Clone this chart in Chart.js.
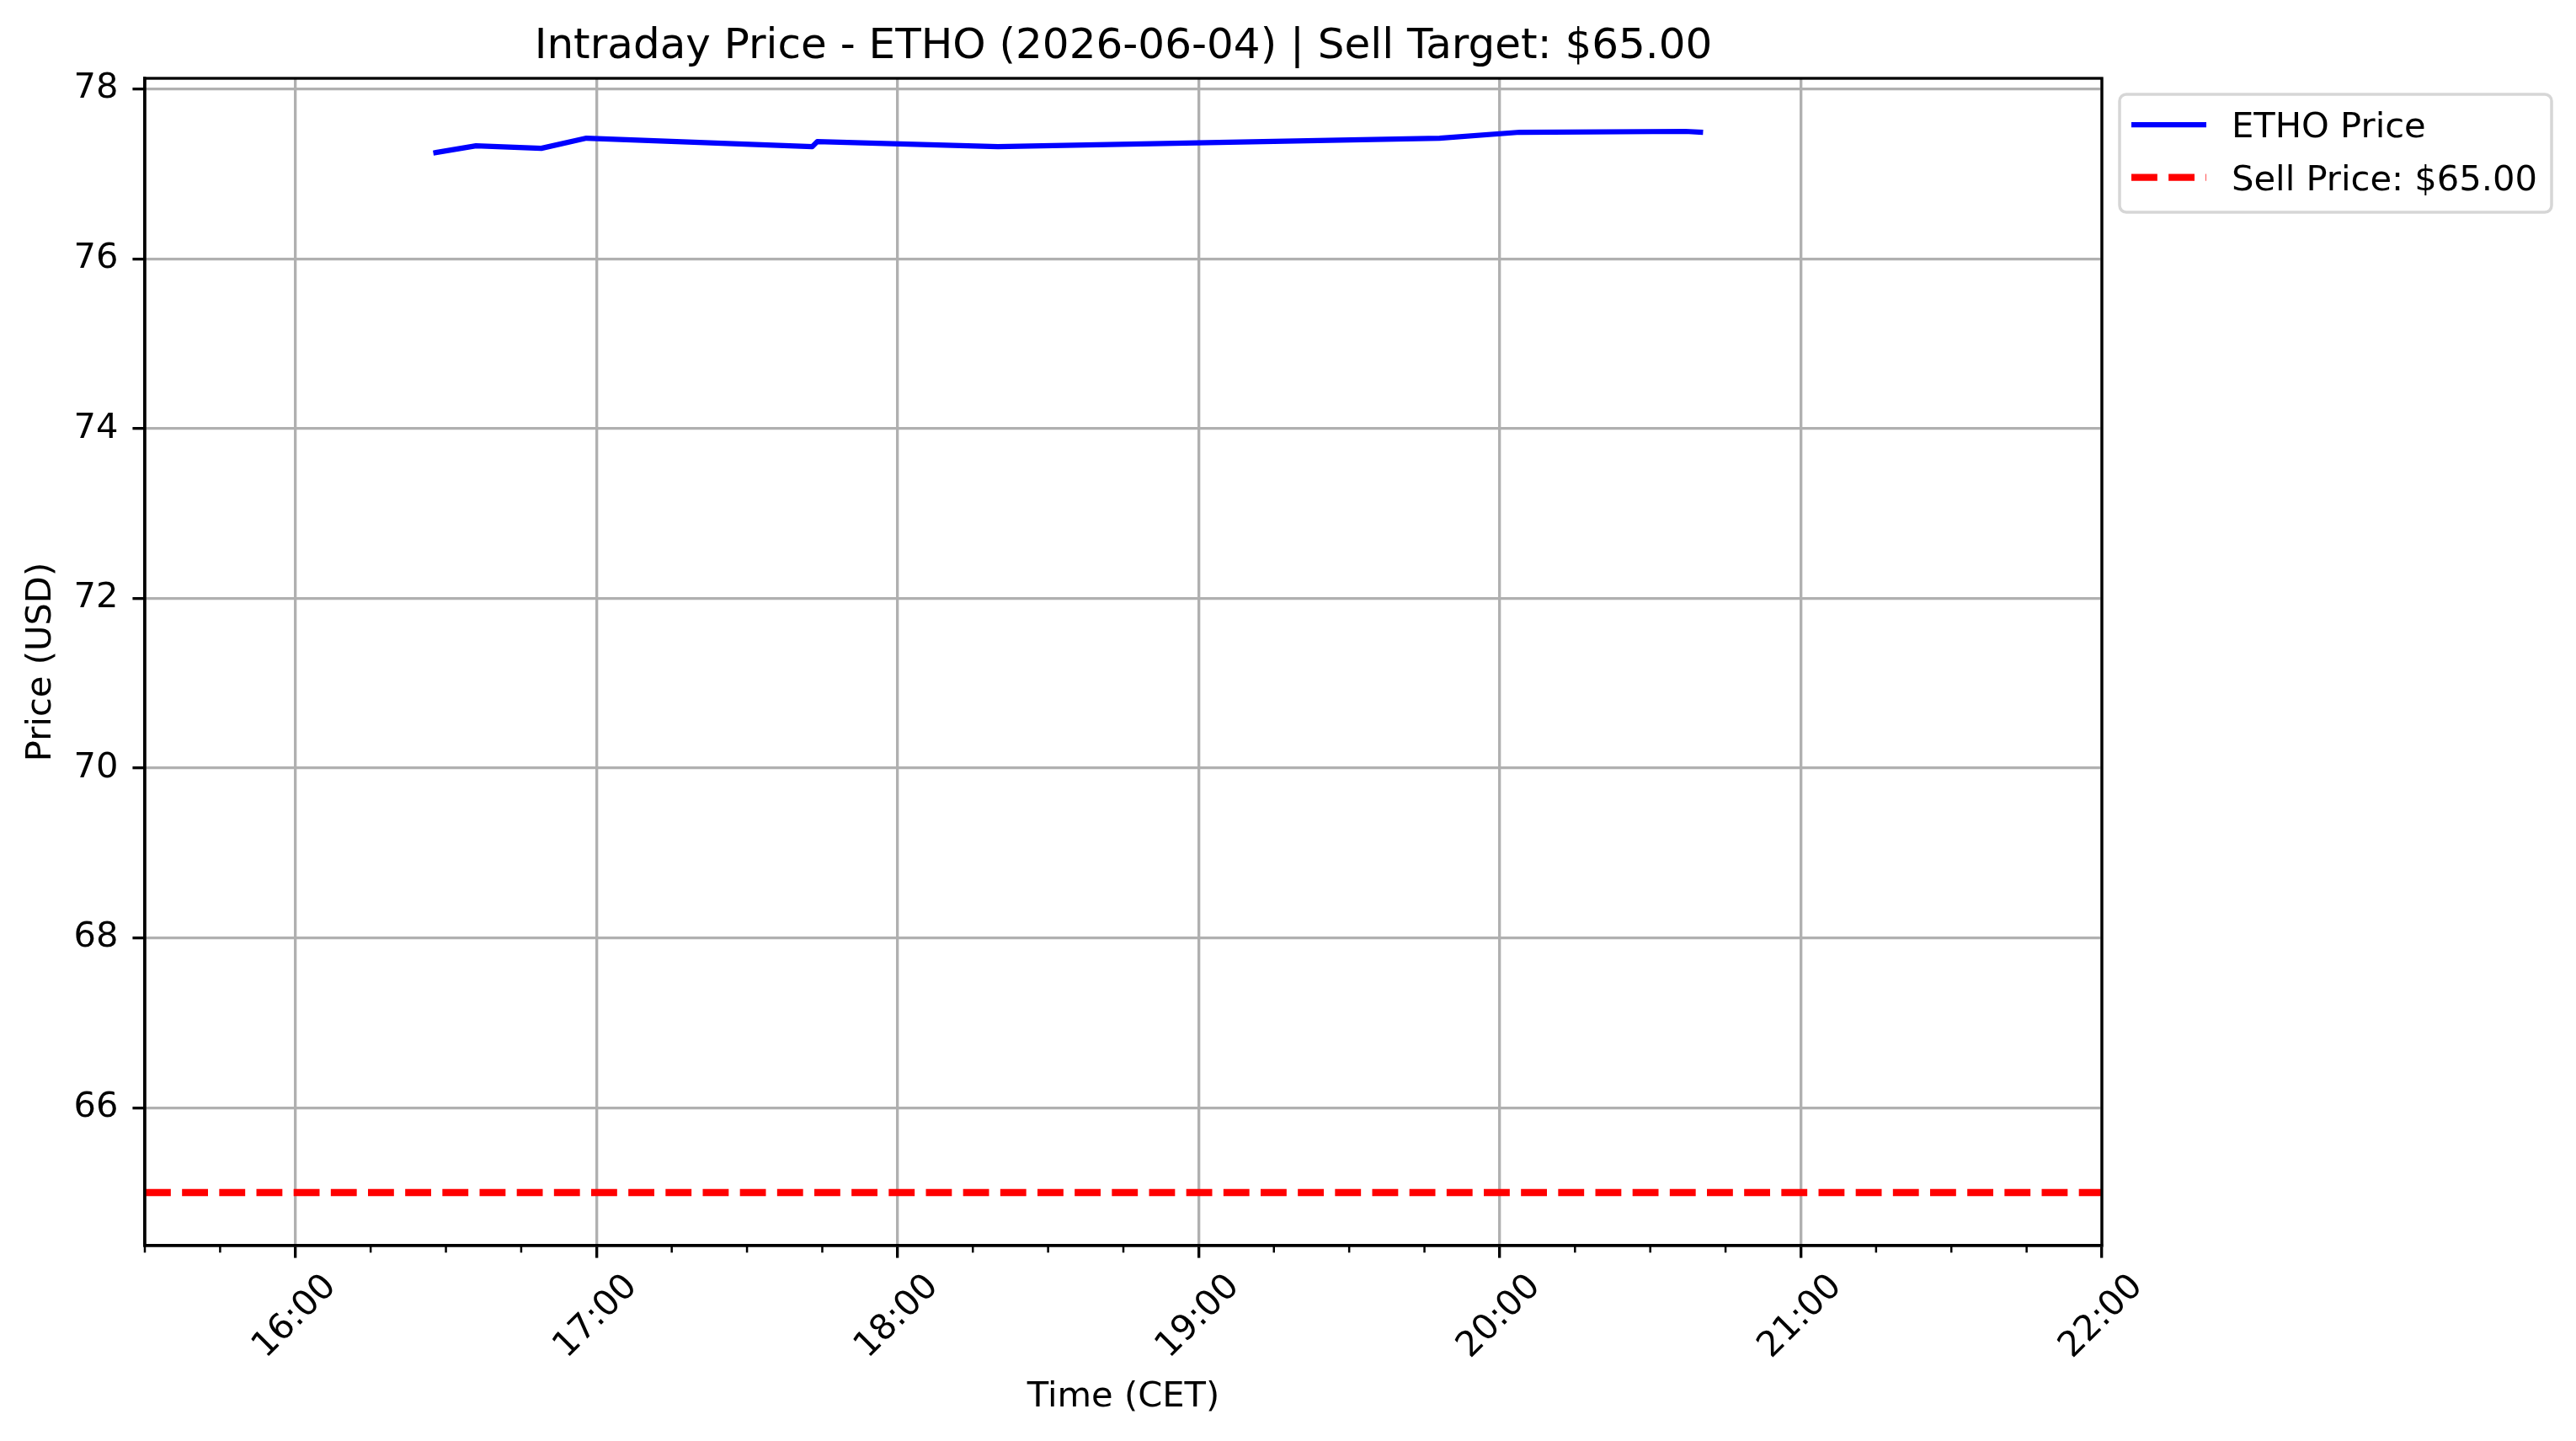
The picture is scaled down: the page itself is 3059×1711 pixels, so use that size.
<!DOCTYPE html>
<html>
<head>
<meta charset="utf-8">
<title>Intraday Price - ETHO</title>
<script src="https://cdn.jsdelivr.net/npm/chart.js@4.4.1/dist/chart.umd.min.js"></script>
<style>
  html, body { margin: 0; padding: 0; background: #fff; }
  canvas { display: block; }
</style>
</head>
<body>
<canvas id="chart" width="3059" height="1711"></canvas>
<script>
// values
var symbol = 'ETHO';
var tradeDate = '2026-06-04';
var sellTarget = 65;
var sessionStart = '15:30';
var sessionEnd = '22:00';
var priceTimes = ['16:28', '16:36', '16:49', '16:58', '17:43', '17:44', '18:20', '19:48', '20:04', '20:37', '20:40'];
var priceValues = [77.25, 77.33, 77.30, 77.42, 77.32, 77.38, 77.32, 77.42, 77.49, 77.50, 77.49];
var hourTicks = ['16:00', '17:00', '18:00', '19:00', '20:00', '21:00', '22:00'];
var priceTicks = [66, 68, 70, 72, 74, 76, 78];

function toMin(t) {
    var p = t.split(':');
    return parseInt(p[0], 10) * 60 + parseInt(p[1], 10);
}
function fmtMin(v) {
    var h = Math.floor(v / 60), m = Math.round(v % 60);
    return (h < 10 ? '0' : '') + h + ':' + (m < 10 ? '0' : '') + m;
}

// matplotlib style autoscale margin (5%) on the y range
var allY = priceValues.concat([sellTarget]);
var yLo = Math.min.apply(null, allY), yHi = Math.max.apply(null, allY);
var yPad = (yHi - yLo) * 0.05;

Chart.defaults.font.family = '"DejaVu Sans", sans-serif';
Chart.defaults.color = '#000';

var PT = 300 / 72; // 300 dpi

// frame, minor ticks and the boxed legend outside the axes
var extras = {
    id: 'extras',
    afterDatasetsDraw: function(chart) {
        var a = chart.chartArea, ctx = chart.ctx;
        ctx.save();
        ctx.strokeStyle = '#000';
        ctx.lineWidth = 0.8 * PT;
        ctx.strokeRect(a.left, a.top, a.right - a.left, a.bottom - a.top);
        ctx.restore();
    },
    afterDraw: function(chart) {
        var ctx = chart.ctx, xs = chart.scales.x, a = chart.chartArea;
        ctx.save();
        // minor ticks every 15 minutes
        ctx.strokeStyle = '#000';
        ctx.lineWidth = 0.6 * PT;
        for (var v = toMin(sessionStart); v <= toMin(sessionEnd); v += 15) {
            if (v % 60 === 0) continue;
            var px = xs.getPixelForValue(v);
            ctx.beginPath();
            ctx.moveTo(px, a.bottom);
            ctx.lineTo(px, a.bottom + 2 * PT);
            ctx.stroke();
        }
        // legend
        var bx = 2517, by = 112, bw = 513, bh = 140, r = 8;
        ctx.fillStyle = 'rgba(255,255,255,0.8)';
        ctx.strokeStyle = '#d6d6d6';
        ctx.lineWidth = 3.5;
        ctx.beginPath();
        ctx.roundRect(bx, by, bw, bh, r);
        ctx.fill();
        ctx.stroke();
        var ds = chart.data.datasets;
        ctx.font = (10 * PT) + 'px "DejaVu Sans"';
        ctx.textBaseline = 'alphabetic';
        ctx.textAlign = 'left';
        for (var i = 0; i < ds.length; i++) {
            var ly = 148 + i * 62.7;
            ctx.strokeStyle = ds[i].borderColor;
            ctx.lineWidth = ds[i].borderWidth;
            ctx.setLineDash(ds[i].borderDash || []);
            ctx.lineCap = 'butt';
            ctx.beginPath();
            ctx.moveTo(2531, ly);
            ctx.lineTo(2620, ly);
            ctx.stroke();
            ctx.setLineDash([]);
            ctx.fillStyle = '#000';
            ctx.fillText(ds[i].label, 2650, ly + 15);
        }
        ctx.restore();
    }
};

var ctx = document.getElementById('chart').getContext('2d');
var chart = new Chart(ctx, {
    type: 'line',
    data: {
        datasets: [{
            label: symbol + ' Price',
            data: priceTimes.map(function(t, i) { return { x: toMin(t), y: priceValues[i] }; }),
            borderColor: '#0000ff',
            borderWidth: 1.5 * PT,
            borderJoinStyle: 'round',
            borderCapStyle: 'square',
            pointRadius: 0,
            tension: 0,
            fill: false
        }, {
            label: 'Sell Price: $' + sellTarget.toFixed(2),
            data: [{ x: toMin(sessionStart), y: sellTarget }, { x: toMin(sessionEnd), y: sellTarget }],
            borderColor: '#ff0000',
            borderWidth: 2 * PT,
            borderDash: [7.4 * PT, 3.2 * PT],
            borderCapStyle: 'butt',
            pointRadius: 0,
            tension: 0,
            fill: false
        }]
    },
    options: {
        responsive: false,
        devicePixelRatio: 1,
        animation: false,
        layout: { padding: { left: 0, right: 563, top: 0, bottom: 0 } },
        plugins: {
            legend: { display: false },
            tooltip: { enabled: false },
            title: {
                display: true,
                fullSize: false,
                text: 'Intraday Price - ' + symbol + ' (' + tradeDate + ') | Sell Target: $' + sellTarget.toFixed(2),
                color: '#000',
                font: { size: 12 * PT, weight: 'normal', lineHeight: 1.2 },
                padding: { top: 26, bottom: 7 }
            }
        },
        scales: {
            x: {
                type: 'linear',
                min: toMin(sessionStart),
                max: toMin(sessionEnd),
                afterBuildTicks: function(scale) {
                    scale.ticks = hourTicks.map(function(t) { return { value: toMin(t) }; });
                },
                afterFit: function(scale) { scale.height = 232; },
                ticks: {
                    autoSkip: false,
                    minRotation: 45,
                    maxRotation: 45,
                    labelOffset: 42,
                    padding: 10,
                    color: '#000',
                    font: { size: 10 * PT },
                    callback: function(v) { return fmtMin(v); }
                },
                grid: {
                    color: '#b0b0b0',
                    lineWidth: 0.8 * PT,
                    tickColor: '#000',
                    tickWidth: 0.8 * PT,
                    tickLength: 3.5 * PT
                },
                border: { color: '#000', width: 0.8 * PT },
                title: {
                    display: true,
                    text: 'Time (CET)',
                    color: '#000',
                    font: { size: 10 * PT, lineHeight: 1.2 },
                    padding: { top: 0, bottom: 27 }
                }
            },
            y: {
                min: yLo - yPad,
                max: yHi + yPad,
                afterBuildTicks: function(scale) {
                    scale.ticks = priceTicks.map(function(v) { return { value: v }; });
                },
                afterFit: function(scale) { scale.width = 172; },
                ticks: {
                    padding: 17,
                    color: '#000',
                    font: { size: 10 * PT }
                },
                grid: {
                    color: '#b0b0b0',
                    lineWidth: 0.8 * PT,
                    tickColor: '#000',
                    tickWidth: 0.8 * PT,
                    tickLength: 3.5 * PT
                },
                border: { color: '#000', width: 0.8 * PT },
                title: {
                    display: true,
                    text: 'Price (USD)',
                    color: '#000',
                    font: { size: 10 * PT, lineHeight: 1.2 },
                    padding: { top: 24, bottom: 0 }
                }
            }
        }
    },
    plugins: [extras]
});
</script>
</body>
</html>
